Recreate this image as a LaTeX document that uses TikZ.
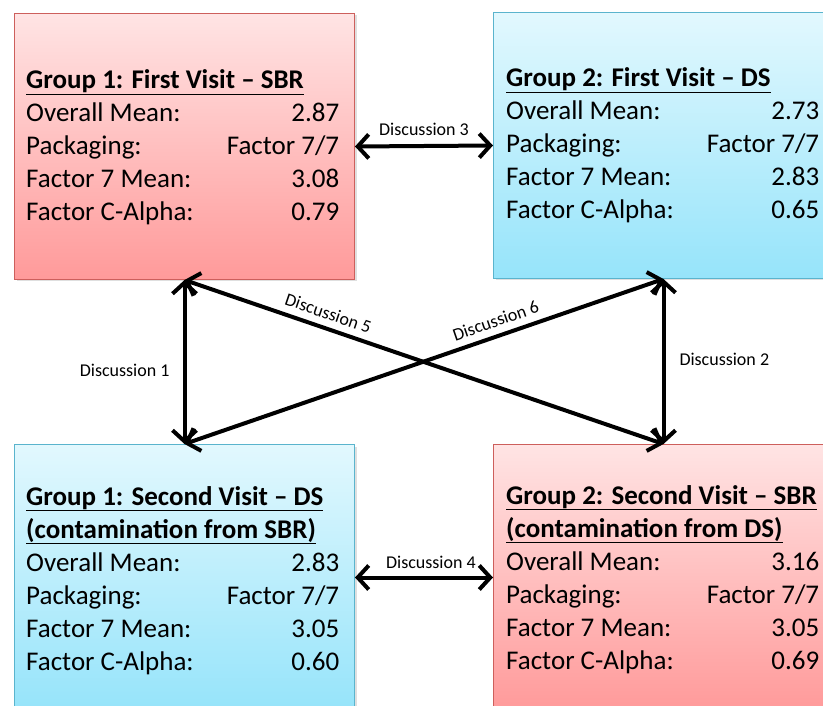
\documentclass[tikz,border=0pt]{standalone}
\usepackage{fontspec}
\setmainfont{Carlito}
\usepackage{tikz}
\usetikzlibrary{positioning, arrows.meta, shadows}

\definecolor{sbrtop}{RGB}{255,228,228}
\definecolor{sbrbot}{RGB}{255,154,154}
\definecolor{sbredge}{RGB}{205,95,92}
\definecolor{dstop}{RGB}{226,248,254}
\definecolor{dsbot}{RGB}{150,228,250}
\definecolor{dsedge}{RGB}{90,180,205}

\newcommand{\headrow}[1]{\multicolumn{2}{@{}l@{}}{\underline{\textbf{#1}}}\\}
\newcommand{\statrows}[3]{Overall Mean: & #1\\ Packaging: & Factor 7/7\\ Factor 7 Mean: & #2\\ Factor C-Alpha: & #3}

\tikzset{
    groupbox/.style={draw, line width=1pt, inner sep=0pt, anchor=north west,
        minimum width=340pt, minimum height=266pt,
        drop shadow={opacity=0.25, shadow xshift=2pt, shadow yshift=-2pt}},
    sbrbox/.style={groupbox, draw=sbredge, top color=sbrtop, bottom color=sbrbot},
    dsbox/.style={groupbox, draw=dsedge, top color=dstop, bottom color=dsbot},
    stats/.style={anchor=base west, inner sep=0pt, font=\fontsize{27}{33}\selectfont},
    talk/.style={{Straight Barb[length=11pt,width=24pt]}-{Straight Barb[length=11pt,width=24pt]}, line width=4pt},
    talklabel/.style={font=\fontsize{18}{22}\selectfont, inner sep=3pt}
}

\begin{document}
\begin{tikzpicture}[x=1pt, y=-1pt]
    \clip (0,0) rectangle (823,706);
    % the four groups
    \node[sbrbox] (g1first) at (14,13) {};
    \node[dsbox] (g2first) at (493,12) {};
    \node[dsbox] (g1second) at (14,444) {};
    \node[sbrbox] (g2second) at (493,444) {};

    \node[stats] (g1firsttxt) at (26,89) {\begin{tabular*}{313pt}[t]{@{}l@{\extracolsep{\fill}}r@{}}
        \headrow{Group 1: First Visit – SBR}
        \statrows{2.87}{3.08}{0.79}
    \end{tabular*}};
    \node[stats] (g2firsttxt) at (506,87) {\begin{tabular*}{313pt}[t]{@{}l@{\extracolsep{\fill}}r@{}}
        \headrow{Group 2: First Visit – DS}
        \statrows{2.73}{2.83}{0.65}
    \end{tabular*}};
    \node[stats] (g1secondtxt) at (26,505) {\begin{tabular*}{313pt}[t]{@{}l@{\extracolsep{\fill}}r@{}}
        \headrow{Group 1: Second Visit – DS}
        \headrow{(contamination from SBR)}
        \statrows{2.83}{3.05}{0.60}
    \end{tabular*}};
    \node[stats] (g2secondtxt) at (506,504) {\begin{tabular*}{313pt}[t]{@{}l@{\extracolsep{\fill}}r@{}}
        \headrow{Group 2: Second Visit – SBR}
        \headrow{(contamination from DS)}
        \statrows{3.16}{3.05}{0.69}
    \end{tabular*}};

    % discussions
    \draw[talk] (g1first.south) -- node[talklabel, left=10pt, pos=0.55] (d1) {Discussion 1} (g1second.north);
    \draw[talk] (g2first.south) -- node[talklabel, right=11pt, pos=0.49] (d2) {Discussion 2} (g2second.north);
    \draw[talk] (g1first.east) -- node[talklabel, above=5pt] (d3) {Discussion 3} (g2first.west);
    \draw[talk] (g1second.east) -- node[talklabel, above=4pt, pos=0.55] (d4) {Discussion 4} (g2second.west);
    \draw[talk] (g1first.south) -- node[talklabel, sloped, above=4pt, pos=0.29] (d5) {Discussion 5} (g2second.north);
    \draw[talk] (g1second.north) -- node[talklabel, sloped, above=4pt, pos=0.66] (d6) {Discussion 6} (g2first.south);
\end{tikzpicture}
\end{document}
